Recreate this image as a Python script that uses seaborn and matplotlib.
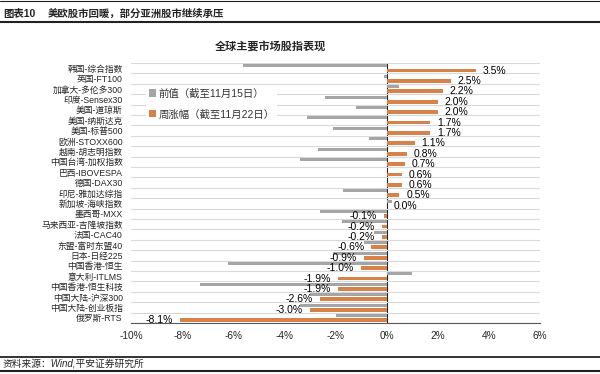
import numpy as np
import pandas as pd
import seaborn as sns
import matplotlib.pyplot as plt
from matplotlib.lines import Line2D

# index names, top to bottom
names = ["韩国-综合指数", "英国-FT100", "加拿大-多伦多300", "印度-Sensex30", "美国-道琼斯",
         "美国-纳斯达克", "美国-标普500", "欧洲-STOXX600", "越南-胡志明指数", "中国台湾-加权指数",
         "巴西-IBOVESPA", "德国-DAX30", "印尼-雅加达综指", "新加坡-海峡指数", "墨西哥-MXX",
         "马来西亚-吉隆坡指数", "法国-CAC40", "东盟-富时东盟40", "日本-日经225", "中国香港-恒生",
         "意大利-ITLMS", "中国香港-恒生科技", "中国大陆-沪深300", "中国大陆-创业板指", "俄罗斯-RTS"]

# weekly change to 11/22 (%)
week_chg = [3.5, 2.5, 2.2, 2.0, 2.0, 1.7, 1.7, 1.1, 0.8, 0.7, 0.6, 0.6, 0.5, 0.02, -0.1,
            -0.2, -0.2, -0.6, -0.9, -1.0, -1.9, -1.9, -2.6, -3.0, -8.1]

# previous week to 11/15 (%)
prev_chg = [-5.6, -0.1, 0.5, -2.4, -1.2, -3.1, -2.1, -0.7, -2.7, -3.4, 0.0, 0.0, -1.7, 0.2, -2.6,
            -1.75, -0.5, -0.9, -2.1, -6.2, 1.0, -7.3, -3.0, -3.4, -2.0]

series = ["前值（截至11月15日）", "周涨幅（截至11月22日）"]
colors = ["#A5A5A5", "#ED7D31"]
xticks = np.arange(-10, 7, 2)

df = pd.DataFrame({
    "name": names * 2,
    "series": [series[0]] * len(names) + [series[1]] * len(names),
    "value": prev_chg + week_chg,
})

sns.set_style("white")
plt.rcParams["font.family"] = ["Liberation Sans", "Noto Sans CJK SC"]

fig = plt.figure(figsize=(6, 3.74), dpi=100)
ax = fig.add_axes([131 / 600, 1 - 323 / 374, 409 / 600, 260 / 374])

sns.barplot(data=df, y="name", x="value", hue="series", palette=colors, orient="h",
            width=0.9, gap=0.3, linewidth=0, ax=ax, zorder=3)

# grey bars a bit thinner than the orange ones
for cont, h in zip(ax.containers, [0.3, 0.36]):
    for bar in cont:
        c = bar.get_y() + bar.get_height() / 2
        bar.set_height(h)
        bar.set_y(c - h / 2)

ax.bar_label(ax.containers[1], labels=[f"{v:.1f}%" for v in week_chg],
             padding=5, fontsize=7.5, color="black")

ax.set_xlim(-10, 6)
ax.set_ylim(len(names) - 0.5, -0.5)
ax.set_xticks(xticks)
ax.set_xticklabels([f"{t}%" for t in xticks], fontsize=7.3)
ax.tick_params(axis="x", direction="in", length=3, width=0.8, color="#595959", pad=6)
ax.tick_params(axis="y", length=0, labelsize=6.3, pad=6)
ax.set_xlabel("")
ax.set_ylabel("")

# horizontal grid on row boundaries
ax.set_yticks(np.arange(-0.5, len(names), 1), minor=True)
ax.grid(which="minor", axis="y", color="#D9D9D9", linewidth=0.8, zorder=0)
ax.tick_params(axis="y", which="minor", length=0)
ax.set_axisbelow(True)

for s in ["top", "right", "left"]:
    ax.spines[s].set_visible(False)
ax.spines["bottom"].set_color("#595959")
ax.spines["bottom"].set_linewidth(0.8)

# category axis drawn at x = 0
zero = ax.secondary_yaxis(10 / 16)
zero.set_yticks(np.arange(-0.5, len(names), 1))
zero.set_yticklabels([])
zero.tick_params(direction="in", length=2, width=0.6, color="#595959")
zero.spines["left"].set_color("#595959")
zero.spines["left"].set_linewidth(0.8)

leg = ax.legend(loc="upper left", bbox_to_anchor=(0.025, 0.93), frameon=True, fontsize=7.5,
                handlelength=0.7, handleheight=0.7, handletextpad=0.3, labelspacing=1.0,
                borderpad=0.2, framealpha=1)
leg.get_frame().set_edgecolor("none")
for t in leg.get_texts():
    t.set_color("#333333")

fig.text(0.005, 1 - 14 / 374, "图表10", fontsize=7.5, fontweight="bold", va="center")
fig.text(48 / 600, 1 - 14 / 374, "美欧股市回暖，部分亚洲股市继续承压", fontsize=7.5,
         fontweight="bold", va="center")
fig.text(270 / 600, 1 - 47 / 374, "全球主要市场股指表现", fontsize=8, fontweight="bold",
         ha="center", va="center")
fig.text(0.005, 1 - 364 / 374, "资料来源：Wind,平安证券研究所", fontsize=7, style="italic",
         va="center")

for y, lw in [(1, 0.8), (21.5, 1.5), (356.5, 1.3), (371, 1.5)]:
    fig.add_artist(Line2D([0, 1], [1 - y / 374] * 2, color="#222222", linewidth=lw,
                          transform=fig.transFigure))

fig.savefig("out.png", dpi=100)
